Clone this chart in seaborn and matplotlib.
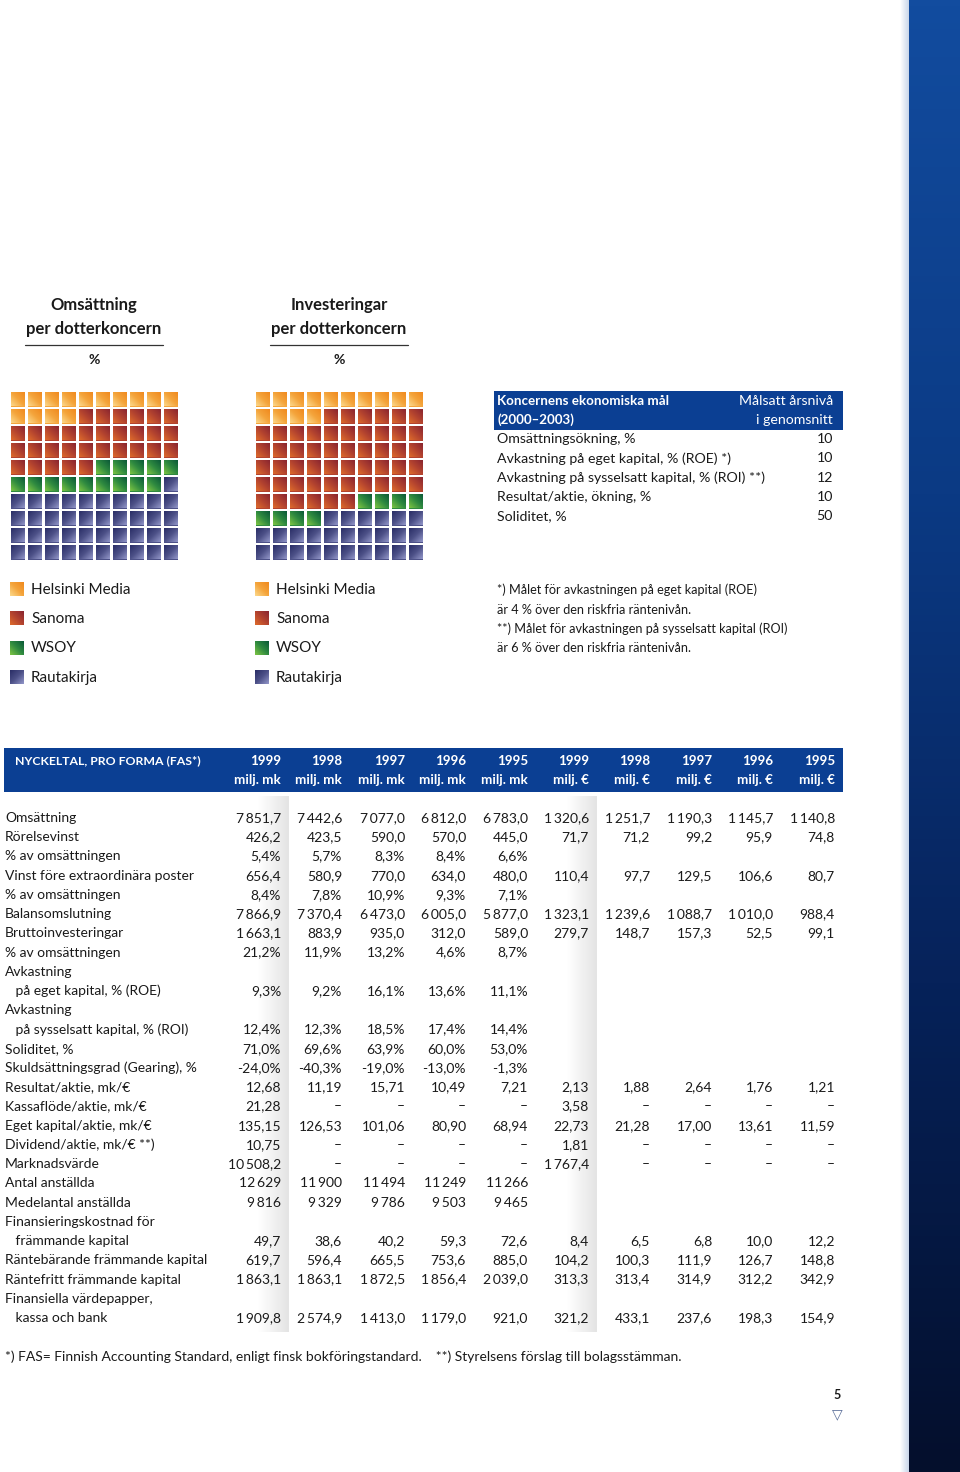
import numpy as np
import pandas as pd
import matplotlib
matplotlib.use("Agg")
import matplotlib.pyplot as plt
from matplotlib.colors import ListedColormap, LinearSegmentedColormap
import seaborn as sns

sns.set_theme(style="white")
plt.rcParams['font.family'] = ['Lato', 'DejaVu Sans']

# ---------------- data ----------------
companies = ["Helsinki Media", "Sanoma", "WSOY", "Rautakirja"]
omsattning_pct = [14, 31, 14, 41]
investeringar_pct = [14, 52, 8, 26]
company_colors = ["#f4a53c", "#b3432f", "#2f8a40", "#4d5188"]
company_light = ["#fcd88a", "#dd6a2c", "#7cc443", "#9296c8"]
company_dark = ["#f08a1e", "#8a2530", "#0b5a38", "#2a2e66"]

goal_labels = ["Omsättningsökning, %", "Avkastning på eget kapital, % (ROE) *)",
               "Avkastning på sysselsatt kapital, % (ROI) **)", "Resultat/aktie, ökning, %",
               "Soliditet, %"]
goal_values = ["10", "10", "12", "10", "50"]

years = ["1999", "1998", "1997", "1996", "1995"]

row_labels = ["Omsättning", "Rörelsevinst", "% av omsättningen", "Vinst före extraordinära poster",
              "% av omsättningen", "Balansomslutning", "Bruttoinvesteringar", "% av omsättningen",
              "Avkastning", "   på eget kapital, % (ROE)", "Avkastning",
              "   på sysselsatt kapital, % (ROI)", "Soliditet, %",
              "Skuldsättningsgrad (Gearing), %", "Resultat/aktie, mk/€", "Kassaflöde/aktie, mk/€",
              "Eget kapital/aktie, mk/€", "Dividend/aktie, mk/€ **)", "Marknadsvärde",
              "Antal anställda", "Medelantal anställda", "Finansieringskostnad för",
              "   främmande kapital", "Räntebärande främmande kapital", "Räntefritt främmande kapital",
              "Finansiella värdepapper,", "   kassa och bank"]

mk_1999 = ["7 851,7", "426,2", "5,4%", "656,4", "8,4%", "7 866,9", "1 663,1", "21,2%", "", "9,3%", "",
           "12,4%", "71,0%", "-24,0%", "12,68", "21,28", "135,15", "10,75", "10 508,2", "12 629",
           "9 816", "", "49,7", "619,7", "1 863,1", "", "1 909,8"]
mk_1998 = ["7 442,6", "423,5", "5,7%", "580,9", "7,8%", "7 370,4", "883,9", "11,9%", "", "9,2%", "",
           "12,3%", "69,6%", "-40,3%", "11,19", "–", "126,53", "–", "–", "11 900",
           "9 329", "", "38,6", "596,4", "1 863,1", "", "2 574,9"]
mk_1997 = ["7 077,0", "590,0", "8,3%", "770,0", "10,9%", "6 473,0", "935,0", "13,2%", "", "16,1%", "",
           "18,5%", "63,9%", "-19,0%", "15,71", "–", "101,06", "–", "–", "11 494",
           "9 786", "", "40,2", "665,5", "1 872,5", "", "1 413,0"]
mk_1996 = ["6 812,0", "570,0", "8,4%", "634,0", "9,3%", "6 005,0", "312,0", "4,6%", "", "13,6%", "",
           "17,4%", "60,0%", "-13,0%", "10,49", "–", "80,90", "–", "–", "11 249",
           "9 503", "", "59,3", "753,6", "1 856,4", "", "1 179,0"]
mk_1995 = ["6 783,0", "445,0", "6,6%", "480,0", "7,1%", "5 877,0", "589,0", "8,7%", "", "11,1%", "",
           "14,4%", "53,0%", "-1,3%", "7,21", "–", "68,94", "–", "–", "11 266",
           "9 465", "", "72,6", "885,0", "2 039,0", "", "921,0"]
eur_1999 = ["1 320,6", "71,7", "", "110,4", "", "1 323,1", "279,7", "", "", "", "", "", "", "",
            "2,13", "3,58", "22,73", "1,81", "1 767,4", "", "", "", "8,4", "104,2", "313,3", "", "321,2"]
eur_1998 = ["1 251,7", "71,2", "", "97,7", "", "1 239,6", "148,7", "", "", "", "", "", "", "",
            "1,88", "–", "21,28", "–", "–", "", "", "", "6,5", "100,3", "313,4", "", "433,1"]
eur_1997 = ["1 190,3", "99,2", "", "129,5", "", "1 088,7", "157,3", "", "", "", "", "", "", "",
            "2,64", "–", "17,00", "–", "–", "", "", "", "6,8", "111,9", "314,9", "", "237,6"]
eur_1996 = ["1 145,7", "95,9", "", "106,6", "", "1 010,0", "52,5", "", "", "", "", "", "", "",
            "1,76", "–", "13,61", "–", "–", "", "", "", "10,0", "126,7", "312,2", "", "198,3"]
eur_1995 = ["1 140,8", "74,8", "", "80,7", "", "988,4", "99,1", "", "", "", "", "", "", "",
            "1,21", "–", "11,59", "–", "–", "", "", "", "12,2", "148,8", "342,9", "", "154,9"]

# ---------------- figure ----------------
W, H = 960, 1472
fig = plt.figure(figsize=(W / 100, H / 100), dpi=100)
fig.patch.set_facecolor("white")
ax = fig.add_axes([0, 0, 1, 1])
ax.set_xlim(0, W)
ax.set_ylim(H, 0)
ax.axis("off")

BLUE = "#0b3f93"
TXT = "#1a1a1a"
FS = 10.0
THIN = "\u2009"


def fmt(s):
    return s.replace(" ", THIN)


def grad_img(k, n=24):
    i, j = np.mgrid[0:n, 0:n] / (n - 1)
    if k == 3:
        d = ((1 - j) + (1 - i)) / 2
    else:
        d = (j + (1 - i)) / 2
    return d


grad_cmaps = [LinearSegmentedColormap.from_list(f"g{k}", [company_light[k], company_colors[k], company_dark[k]])
              for k in range(4)]

# right blue strip
grad = np.linspace(0, 1, 256).reshape(-1, 1)
strip_cmap = LinearSegmentedColormap.from_list("strip", ["#124c9f", "#0b3a84", "#06225a", "#040f2c"])
ax.imshow(grad, cmap=strip_cmap, extent=(909, 960, H, 0), aspect="auto", zorder=0)
edge_cmap = LinearSegmentedColormap.from_list("edge", ["#ffffff", "#c9d6ea"])
ax.imshow(np.linspace(0, 1, 32).reshape(1, -1), cmap=edge_cmap, extent=(900, 909, H, 0), aspect="auto", zorder=0)

# chart titles
for cx, t1 in [(94, "Omsättning"), (339, "Investeringar")]:
    ax.text(cx, 305, t1, ha="center", va="center", fontsize=12, fontweight="bold", color=TXT)
    ax.text(cx, 329, "per dotterkoncern", ha="center", va="center", fontsize=12, fontweight="bold", color=TXT)
    ax.plot([cx - 69, cx + 69], [345, 345], color="#333333", lw=0.9)
    ax.text(cx, 360, "%", ha="center", va="center", fontsize=10, fontweight="bold", color=TXT)

# waffles via seaborn heatmap
cmap = ListedColormap(company_colors)
g = 0.1
for left, pcts in [(9, omsattning_pct), (254, investeringar_pct)]:
    cells = np.repeat(np.arange(len(pcts)), pcts).reshape(10, 10)
    wax = fig.add_axes([left / W, 1 - 561 / H, 170 / W, 170 / H])
    sns.heatmap(pd.DataFrame(cells), ax=wax, cmap=cmap, vmin=-0.5, vmax=3.5, cbar=False,
                linewidths=2.0, linecolor="white", square=False, xticklabels=False, yticklabels=False)
    xl, yl = wax.get_xlim(), wax.get_ylim()
    for r in range(cells.shape[0]):
        for c in range(cells.shape[1]):
            k = cells[r, c]
            wax.imshow(grad_img(k), cmap=grad_cmaps[k], vmin=0, vmax=1,
                       extent=(c + g, c + 1 - g, r + 1 - g, r + g), aspect="auto", zorder=3)
    wax.set_xlim(xl)
    wax.set_ylim(yl)
    wax.axis("off")

# legends
for lx in [10, 255]:
    for i, name in enumerate(companies):
        yy = 589 + i * 29.5
        ax.imshow(grad_img(i), cmap=grad_cmaps[i], vmin=0, vmax=1,
                  extent=(lx, lx + 14, yy + 7, yy - 7), aspect="auto", zorder=2)
        ax.text(lx + 21, yy + 0.5, name, ha="left", va="center", fontsize=11, color=TXT)
ax.set_xlim(0, W)
ax.set_ylim(H, 0)

# goals table
GF = 10.2
ax.add_patch(plt.Rectangle((494, 391), 349, 39, color=BLUE, lw=0))
ax.text(497, 401, "Koncernens ekonomiska mål", ha="left", va="center", fontsize=9.6, fontweight="bold", color="white")
ax.text(497, 420, "(2000–2003)", ha="left", va="center", fontsize=9.6, fontweight="bold", color="white")
ax.text(833, 401, "Målsatt årsnivå", ha="right", va="center", fontsize=GF, color="white")
ax.text(833, 420, "i genomsnitt", ha="right", va="center", fontsize=GF, color="white")
for i, (lab, val) in enumerate(zip(goal_labels, goal_values)):
    yy = 439 + i * 19.3
    ax.text(497, yy, lab, ha="left", va="center", fontsize=GF, color=TXT)
    ax.text(833, yy, val, ha="right", va="center", fontsize=GF, color=TXT)

notes = ["*) Målet för avkastningen på eget kapital (ROE)", "är 4 % över den riskfria räntenivån.",
         "**) Målet för avkastningen på sysselsatt kapital (ROI)", "är 6 % över den riskfria räntenivån."]
for i, n in enumerate(notes):
    ax.text(497, 590 + i * 19.5, n, ha="left", va="center", fontsize=9.1, color=TXT)

# shaded bands behind 1999 columns
band = np.linspace(0, 1, 64).reshape(1, -1)
band_cmap = LinearSegmentedColormap.from_list("band", ["#ffffff", "#ffffff", "#e4e4e4"])
ax.imshow(band, cmap=band_cmap, extent=(228, 289, 1332, 796), aspect="auto", zorder=0.5)
ax.imshow(band, cmap=band_cmap, extent=(538, 597, 1332, 796), aspect="auto", zorder=0.5)

# main table header
ax.add_patch(plt.Rectangle((4, 748), 839, 44, color=BLUE, lw=0))
ax.text(15, 761, "NYCKELTAL, PRO FORMA (FAS*)", ha="left", va="center", fontsize=8.8, fontweight="bold", color="white")
col_x = [281, 342, 405, 466, 528, 589, 650, 712, 773, 835]
units = ["milj. mk"] * 5 + ["milj. €"] * 5
for x, yr, u in zip(col_x, years + years, units):
    ax.text(x, 761, yr, ha="right", va="center", fontsize=9.6, fontweight="bold", color="white")
    ax.text(x, 780, u, ha="right", va="center", fontsize=9.6, fontweight="bold", color="white")

columns = [mk_1999, mk_1998, mk_1997, mk_1996, mk_1995, eur_1999, eur_1998, eur_1997, eur_1996, eur_1995]
pitch = (1318 - 818) / 26
for r, lab in enumerate(row_labels):
    yy = 818 + r * pitch
    ax.text(5, yy, lab, ha="left", va="center", fontsize=FS, color=TXT, zorder=2)
    for x, col in zip(col_x, columns):
        if col[r]:
            ax.text(x, yy, fmt(col[r]), ha="right", va="center", fontsize=FS, color=TXT, zorder=2)

ax.text(5, 1357, "*) FAS= Finnish Accounting Standard, enligt finsk bokföringstandard.    **) Styrelsens förslag till bolagsstämman.",
        ha="left", va="center", fontsize=FS, color=TXT)

ax.text(837, 1395, "5", ha="center", va="center", fontsize=9, fontweight="bold", color=TXT)
ax.text(837, 1414, "▽", ha="center", va="center", fontsize=10, color="#5b6f9a", family=["DejaVu Sans"])

fig.savefig("out.png", dpi=100, facecolor="white")
